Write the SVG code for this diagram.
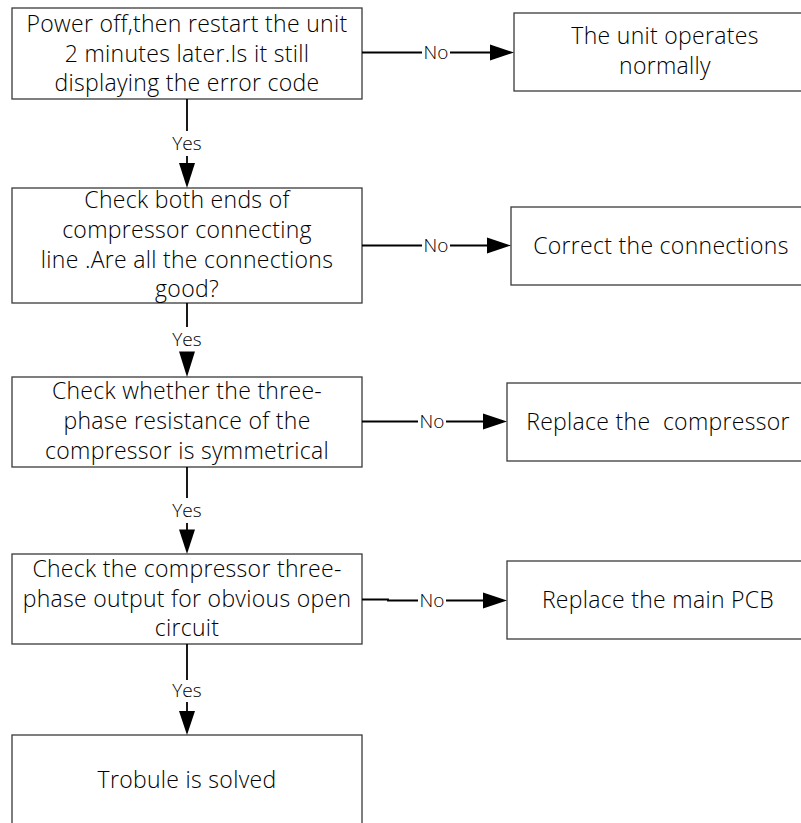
<svg xmlns="http://www.w3.org/2000/svg" width="801" height="823" viewBox="0 0 801 823">
<defs>
<style>
.box{fill:#fff;stroke:#3a3a3a;stroke-width:1.3}
.t{font-family:"Open Sans","Noto Sans",sans-serif;font-size:23px;font-weight:300;letter-spacing:0.3px;fill:#000;text-anchor:middle}
.lbl{font-family:"Open Sans","Noto Sans",sans-serif;font-size:19px;font-weight:300;fill:#000;text-anchor:middle}
.ln{stroke:#000;stroke-width:1.8;fill:none}
.ah{fill:#000}
</style>
</defs>
<rect width="801" height="823" fill="#fff"/>
<g id="n1"><rect class="box" x="12" y="8" width="350" height="91"/>
<text class="t" x="187" y="32">Power off,then restart the unit</text>
<text class="t" x="187" y="62">2 minutes later.Is it still</text>
<text class="t" x="187" y="91">displaying the error code</text></g>
<g id="r1"><rect class="box" x="514" y="13" width="300" height="78"/>
<text class="t" x="665" y="43.5">The unit operates</text>
<text class="t" x="665" y="73.5">normally</text></g>
<g id="n2"><rect class="box" x="12" y="188" width="350" height="115"/>
<text class="t" x="187" y="208">Check both ends of</text>
<text class="t" x="187" y="238">compressor connecting</text>
<text class="t" x="187" y="268">line .Are all the connections</text>
<text class="t" x="187" y="297">good?</text></g>
<g id="r2"><rect class="box" x="511" y="207" width="300" height="78"/>
<text class="t" x="661" y="254">Correct the connections</text></g>
<g id="n3"><rect class="box" x="12" y="377" width="350" height="90"/>
<text class="t" x="187" y="399">Check whether the three-</text>
<text class="t" x="187" y="429">phase resistance of the</text>
<text class="t" x="187" y="459">compressor is symmetrical</text></g>
<g id="r3"><rect class="box" x="507" y="383" width="300" height="78"/>
<text class="t" x="658" y="430" xml:space="preserve">Replace the  compressor</text></g>
<g id="n4"><rect class="box" x="12" y="554" width="350" height="90"/>
<text class="t" x="187" y="577">Check the compressor three-</text>
<text class="t" x="187" y="607">phase output for obvious open</text>
<text class="t" x="187" y="636">circuit</text></g>
<g id="r4"><rect class="box" x="507" y="561" width="300" height="78"/>
<text class="t" x="658" y="608">Replace the main PCB</text></g>
<g id="n5"><rect class="box" x="12" y="735" width="350" height="100"/>
<text class="t" x="187" y="788">Trobule is solved</text></g>
<g id="connectors">
<line class="ln" x1="362" y1="52.5" x2="422" y2="52.5"/>
<text class="lbl" x="436" y="59">No</text>
<line class="ln" x1="450" y1="52.5" x2="492" y2="52.5"/>
<polygon class="ah" points="490,44.5 514,52.5 490,60.5"/>
<line class="ln" x1="187" y1="99" x2="187" y2="131"/>
<text class="lbl" x="187" y="150">Yes</text>
<line class="ln" x1="187" y1="156" x2="187" y2="165"/>
<polygon class="ah" points="179,163 187,188 195,163"/>

<line class="ln" x1="362" y1="245.5" x2="422" y2="245.5"/>
<text class="lbl" x="436" y="252">No</text>
<line class="ln" x1="450" y1="245.5" x2="489" y2="245.5"/>
<polygon class="ah" points="487,237.5 511,245.5 487,253.5"/>
<line class="ln" x1="187" y1="303" x2="187" y2="327"/>
<text class="lbl" x="187" y="346">Yes</text>
<polygon class="ah" points="179,351.5 187,377 195,351.5"/>

<line class="ln" x1="362" y1="421.5" x2="418" y2="421.5"/>
<text class="lbl" x="432" y="428">No</text>
<line class="ln" x1="446" y1="421.5" x2="485" y2="421.5"/>
<polygon class="ah" points="483,413.5 507,421.5 483,429.5"/>
<line class="ln" x1="187" y1="467" x2="187" y2="498"/>
<text class="lbl" x="187" y="517">Yes</text>
<line class="ln" x1="187" y1="523" x2="187" y2="532"/>
<polygon class="ah" points="179,529.5 187,554 195,529.5"/>

<polyline class="ln" points="362,599.5 388,599.5 388,600.5 418,600.5"/>
<text class="lbl" x="432" y="607">No</text>
<line class="ln" x1="446" y1="600.5" x2="485" y2="600.5"/>
<polygon class="ah" points="483,592.5 507,600.5 483,608.5"/>
<line class="ln" x1="187" y1="644" x2="187" y2="680"/>
<text class="lbl" x="187" y="697">Yes</text>
<line class="ln" x1="187" y1="702" x2="187" y2="713"/>
<polygon class="ah" points="179,711 187,735 195,711"/>
</g>
</svg>
